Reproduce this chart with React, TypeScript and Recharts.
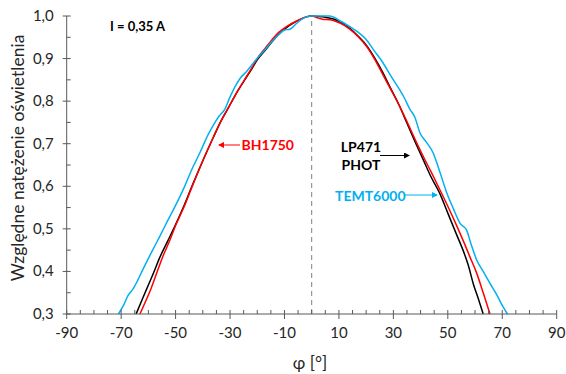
import React from 'react';
import { LineChart, Line, XAxis, YAxis, ReferenceLine } from 'recharts';

// Relative illuminance vs. angle, three sensors
const LP471_ANGLES = [-64.5, -62, -60, -58, -56, -53, -50, -47, -44, -40, -36, -33, -31, -28, -25, -22, -20, -17, -15, -12, -10, -6, -2, 0, 2, 5, 8, 11, 14, 17, 20, 23, 26, 29, 32, 35, 38, 41, 44, 47, 50, 53, 56, 57.5, 59.4, 61, 63];
const LP471_VALUES = [0.3, 0.338, 0.368, 0.398, 0.43, 0.47, 0.51, 0.553, 0.6, 0.66, 0.717, 0.757, 0.78, 0.815, 0.846, 0.876, 0.897, 0.92, 0.936, 0.958, 0.969, 0.986, 0.998, 1.0, 0.999, 0.997, 0.993, 0.984, 0.971, 0.953, 0.932, 0.903, 0.869, 0.83, 0.792, 0.748, 0.704, 0.662, 0.62, 0.584, 0.537, 0.49, 0.443, 0.415, 0.37, 0.34, 0.3];

const BH1750_ANGLES = [-63.1, -61, -59, -57, -55, -52, -50, -47, -44, -40, -36, -33, -31, -28, -25, -22, -20, -17, -15, -12, -9, -5, -2, 0, 2.5, 4.3, 6.7, 9, 12, 14, 17, 20, 23, 26, 29, 32, 35, 38, 41, 44, 47, 50, 53, 56, 58, 60.6, 63, 65.5];
const BH1750_VALUES = [0.3, 0.33, 0.36, 0.395, 0.43, 0.475, 0.508, 0.55, 0.598, 0.66, 0.717, 0.757, 0.78, 0.815, 0.847, 0.878, 0.9, 0.925, 0.941, 0.962, 0.976, 0.99, 0.998, 1.0, 0.995, 0.992, 0.991, 0.987, 0.978, 0.969, 0.952, 0.93, 0.9, 0.864, 0.828, 0.792, 0.752, 0.71, 0.67, 0.632, 0.593, 0.553, 0.511, 0.467, 0.436, 0.396, 0.35, 0.3];

const TEMT_ANGLES = [-71, -69, -67.5, -65.5, -64, -62, -59, -56, -53, -50, -47, -44, -41, -38, -36, -34, -32, -30, -28, -26, -24, -22, -20, -17, -15, -12, -10, -8, -5.5, -2, 0, 3, 6.7, 8.5, 10, 12, 14, 17, 20, 23, 26, 29, 32, 34, 36, 37.9, 39.8, 42, 44.5, 46.5, 49.6, 52, 54.5, 56.9, 58.5, 60.6, 63, 65.5, 68, 70, 71.9];
const TEMT_VALUES = [0.3, 0.322, 0.343, 0.36, 0.378, 0.405, 0.443, 0.48, 0.518, 0.555, 0.595, 0.64, 0.68, 0.722, 0.745, 0.765, 0.78, 0.81, 0.836, 0.856, 0.869, 0.885, 0.901, 0.922, 0.937, 0.957, 0.967, 0.969, 0.983, 0.998, 1.0, 1.0, 1.0, 0.996, 0.99, 0.983, 0.975, 0.962, 0.945, 0.918, 0.892, 0.86, 0.83, 0.808, 0.782, 0.762, 0.725, 0.705, 0.68, 0.645, 0.585, 0.548, 0.513, 0.497, 0.465, 0.427, 0.4, 0.372, 0.345, 0.32, 0.3];

const X_TICKS = [-90, -85, -80, -75, -70, -65, -60, -55, -50, -45, -40, -35, -30, -25, -20, -15, -10, -5, 0, 5, 10, 15, 20, 25, 30, 35, 40, 45, 50, 55, 60, 65, 70, 75, 80, 85, 90];
const Y_TICKS = [0.3, 0.35, 0.4, 0.45, 0.5, 0.55, 0.6, 0.65, 0.7, 0.75, 0.8, 0.85, 0.9, 0.95, 1.0];

const toRows = (xs: number[], ys: number[]) => xs.map((x, i) => ({ x, y: ys[i] }));

const lp471 = toRows(LP471_ANGLES, LP471_VALUES);
const bh1750 = toRows(BH1750_ANGLES, BH1750_VALUES);
const temt = toRows(TEMT_ANGLES, TEMT_VALUES);

const FONT = 'Lato, "Open Sans", sans-serif';
const AXIS = '#595959';
const TEXT = '#262626';
const BLUE = '#00B0F0';

const XTick = ({ x, y, payload }: any) => {
  const v = payload.value;
  const major = (v + 90) % 20 === 0;
  return (
    <g>
      <line x1={x} x2={x} y1={y - 4} y2={major ? y + 5 : y} stroke={AXIS} />
      {major && (
        <text x={x} y={y + 24} textAnchor="middle" fontSize={15} fill={TEXT} fontFamily={FONT}>
          {v}
        </text>
      )}
    </g>
  );
};

const YTick = ({ x, y, payload }: any) => {
  const v = payload.value;
  const major = Math.round(v * 100) % 10 === 0;
  return (
    <g>
      <line x1={major ? x - 4 : x} x2={x + 4} y1={y} y2={y} stroke={AXIS} />
      {major && (
        <text x={x - 13} y={y + 5} textAnchor="end" fontSize={15} fill={TEXT} fontFamily={FONT}>
          {v.toFixed(1).replace('.', ',')}
        </text>
      )}
    </g>
  );
};

export default function App() {
  return (
    <div style={{ position: 'absolute', left: 0, top: 0, width: 566, height: 374, fontFamily: FONT, background: '#fff' }}>
      <LineChart width={566} height={374} margin={{ top: 16, right: 9.3, left: 0, bottom: 0 }}>
        <XAxis
          type="number"
          dataKey="x"
          domain={[-90, 90]}
          ticks={X_TICKS}
          interval={0}
          height={60}
          tickSize={0}
          tickMargin={0}
          tickLine={false}
          axisLine={{ stroke: AXIS }}
          tick={(p: any) => <XTick {...p} />}
        />
        <YAxis
          type="number"
          domain={[0.3, 1]}
          ticks={Y_TICKS}
          interval={0}
          width={66.7}
          tickSize={0}
          tickMargin={0}
          tickLine={false}
          axisLine={{ stroke: AXIS }}
          tick={(p: any) => <YTick {...p} />}
        />
        <ReferenceLine x={0} stroke="#7F7F7F" strokeDasharray="5 4" />
        <Line data={lp471} dataKey="y" type="monotone" stroke="#000000" strokeWidth={1.5} dot={false} isAnimationActive={false} />
        <Line data={bh1750} dataKey="y" type="monotone" stroke="#FF0000" strokeWidth={1.5} dot={false} isAnimationActive={false} />
        <Line data={temt} dataKey="y" type="monotone" stroke={BLUE} strokeWidth={1.5} dot={false} isAnimationActive={false} />
      </LineChart>
      <svg width={566} height={374} style={{ position: 'absolute', left: 0, top: 0, pointerEvents: 'none' }}>
        <defs>
          <marker id="headRed" markerWidth="6" markerHeight="6" refX="5" refY="3" orient="auto">
            <path d="M0,0 L6,3 L0,6 z" fill="#FF0000" />
          </marker>
          <marker id="headBlack" markerWidth="6" markerHeight="6" refX="5" refY="3" orient="auto">
            <path d="M0,0 L6,3 L0,6 z" fill="#000000" />
          </marker>
          <marker id="headBlue" markerWidth="6" markerHeight="6" refX="5" refY="3" orient="auto">
            <path d="M0,0 L6,3 L0,6 z" fill={BLUE} />
          </marker>
        </defs>
        <text x={110} y={31} fontSize={13} fontWeight="bold" fill="#000">I = 0,35 A</text>

        <line x1={240} y1={145} x2={219} y2={145} stroke="#FF0000" markerEnd="url(#headRed)" />
        <text x={241.5} y={150} fontSize={14} fontWeight="bold" fill="#FF0000">BH1750</text>

        <text x={361} y={152} fontSize={14} fontWeight="bold" fill="#000" textAnchor="middle">LP471</text>
        <text x={361} y={170} fontSize={14} fontWeight="bold" fill="#000" textAnchor="middle">PHOT</text>
        <line x1={380} y1={155.5} x2={409} y2={155.5} stroke="#000" markerEnd="url(#headBlack)" />

        <text x={335} y={201} fontSize={14} fontWeight="bold" fill={BLUE}>TEMT6000</text>
        <line x1={404} y1={195} x2={437} y2={195} stroke={BLUE} markerEnd="url(#headBlue)" />

        <text
          transform="translate(24,158) rotate(-90)"
          textAnchor="middle"
          fontSize={17.5}
          fill={TEXT}
        >
          Względne natężenie oświetlenia
        </text>
        <text x={310} y={369} textAnchor="middle" fontSize={17} fill={TEXT}>
          φ [°]
        </text>
      </svg>
    </div>
  );
}
